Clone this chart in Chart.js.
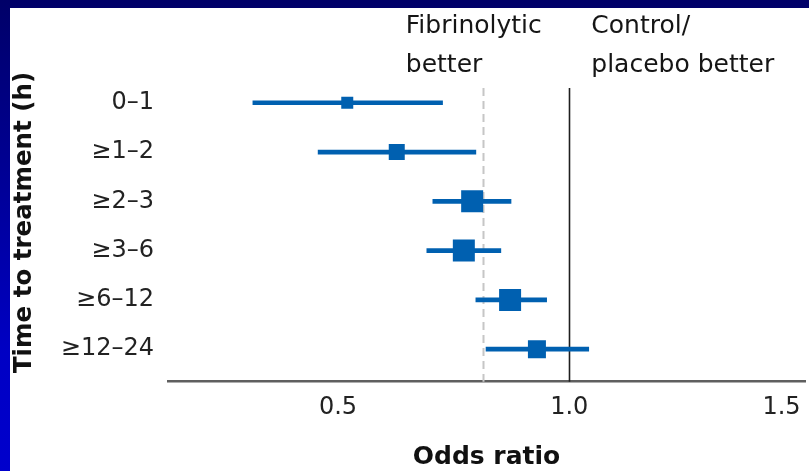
<!DOCTYPE html>
<html>
<head>
<meta charset="utf-8">
<script src="https://cdn.jsdelivr.net/npm/chart.js@4/dist/chart.umd.min.js"></script>
<style>
  html, body { margin: 0; padding: 0; width: 809px; height: 471px; overflow: hidden; }
  body { background: linear-gradient(180deg, #000068 0%, #00008c 30%, #0000c4 75%, #0000cc 100%); position: relative; }
  #panel { position: absolute; left: 10px; top: 8px; width: 799px; height: 463px; background: #ffffff; }
  canvas { display: block; }
</style>
</head>
<body>
<div id="panel"><canvas id="c" width="799" height="463"></canvas></div>
<script>
// ---- data ----
const categories = ['0\u20131', '\u22651\u20132', '\u22652\u20133', '\u22653\u20136', '\u22656\u201312', '\u226512\u201324'];
const oddsRatio  = [0.520, 0.627, 0.790, 0.772, 0.872, 0.930];
const ciLow      = [0.316, 0.457, 0.705, 0.692, 0.798, 0.820];
const ciHigh     = [0.726, 0.798, 0.874, 0.852, 0.951, 1.042];
const weights    = [12, 16, 22, 22, 22, 18];      // relative weight shown by marker size
const xTickValues = [0.5, 1.0, 1.5];
const xTickLabels = ['0.5', '1.0', '1.5'];
const overallOR = 0.814;   // dashed reference line
const nullOR = 1.0;        // solid line of no effect
const xTitle = 'Odds ratio';
const yTitle = 'Time to treatment (h)';
const leftNote  = ['Fibrinolytic', 'better'];
const rightNote = ['Control/', 'placebo better'];

const BLUE = '#0060b0';
const FONT = '"DejaVu Sans", sans-serif';
const X_MIN = 0.1325, X_MAX = 1.5095;

const barData = categories.map((c, i) => ({ x: [ciLow[i], ciHigh[i]], y: i }));
const pointData = categories.map((c, i) => ({ x: oddsRatio[i], y: i }));

const decorPlugin = {
  id: 'decor',
  beforeDatasetsDraw(chart) {
    const { ctx, chartArea, scales } = chart;
    const xs = scales.x;
    ctx.save();
    // overall estimate, dashed
    let px = Math.round(xs.getPixelForValue(overallOR)) + 0.5;
    ctx.strokeStyle = '#c6c6c6';
    ctx.lineWidth = 2;
    ctx.setLineDash([8, 5]);
    ctx.beginPath(); ctx.moveTo(px, chartArea.top); ctx.lineTo(px, chartArea.bottom); ctx.stroke();
    // line of no effect
    px = Math.round(xs.getPixelForValue(nullOR)) + 0.5;
    ctx.setLineDash([]);
    ctx.strokeStyle = '#1e1e1e';
    ctx.lineWidth = 1.6;
    ctx.beginPath(); ctx.moveTo(px, chartArea.top); ctx.lineTo(px, chartArea.bottom); ctx.stroke();
    ctx.restore();
  },
  afterDraw(chart) {
    const { ctx, scales } = chart;
    const px1 = scales.x.getPixelForValue(nullOR);
    ctx.save();
    ctx.fillStyle = '#151515';
    ctx.font = '25px ' + FONT;
    ctx.textBaseline = 'alphabetic';
    ctx.textAlign = 'left';
    const lx = px1 - 163.5, rx = px1 + 22;
    leftNote.forEach((t, i) => ctx.fillText(t, lx, 24.5 + i * 39.2));
    rightNote.forEach((t, i) => ctx.fillText(t, rx, 24.5 + i * 39.2));
    // vertical axis title
    ctx.font = 'bold 24.5px ' + FONT;
    ctx.translate(15, 214.5);
    ctx.rotate(-Math.PI / 2);
    ctx.textAlign = 'center';
    ctx.textBaseline = 'middle';
    ctx.fillStyle = '#111111';
    ctx.fillText(yTitle, 0, 0);
    ctx.restore();
  }
};

new Chart(document.getElementById('c'), {
  type: 'scatter',
  data: {
    datasets: [
      {
        type: 'scatter',
        data: pointData,
        order: 1,
        pointStyle: 'rect',
        pointRadius: ctx => weights[ctx.dataIndex] / Math.SQRT2,
        pointHoverRadius: ctx => weights[ctx.dataIndex] / Math.SQRT2,
        backgroundColor: BLUE,
        borderColor: BLUE,
        borderWidth: 0
      },
      {
        type: 'bar',
        indexAxis: 'y',
        data: barData,
        order: 2,
        barThickness: 4,
        grouped: false,
        backgroundColor: BLUE,
        borderWidth: 0
      }
    ]
  },
  options: {
    responsive: false,
    animation: false,
    devicePixelRatio: 1,
    events: [],
    layout: { autoPadding: false, padding: { left: 0, right: 4, top: 80, bottom: 0 } },
    plugins: { legend: { display: false }, tooltip: { enabled: false }, title: { display: false } },
    scales: {
      x: {
        type: 'linear',
        position: 'bottom',
        min: X_MIN,
        max: X_MAX,
        offset: false,
        grid: { display: false, drawTicks: false },
        border: { display: true, color: '#5f5f5f', width: 2.5 },
        afterBuildTicks: s => { s.ticks = [{ value: X_MIN }].concat(xTickValues.map(v => ({ value: v }))); },
        ticks: {
          autoSkip: false,
          maxRotation: 0,
          align: 'inner',
          padding: 12,
          color: '#222222',
          font: { family: FONT, size: 24 },
          callback: v => { const k = xTickValues.indexOf(v); return k >= 0 ? xTickLabels[k] : ''; }
        },
        title: {
          display: true,
          text: xTitle,
          color: '#111111',
          font: { family: FONT, size: 25, weight: 'bold', lineHeight: 1 },
          padding: { top: 0, bottom: 1 }
        },
        afterFit: s => { s.height = 89.3; s.paddingLeft = 0; s.paddingRight = 0; }
      },
      y: {
        type: 'linear',
        position: 'left',
        reverse: true,
        min: -0.3,
        max: 5.66,
        offset: false,
        grid: { display: false, drawTicks: false },
        border: { display: false },
        afterBuildTicks: s => { s.ticks = categories.map((c, i) => ({ value: i })); },
        ticks: {
          autoSkip: false,
          padding: 14,
          color: '#222222',
          font: { family: FONT, size: 24 },
          callback: v => categories[v]
        },
        title: { display: false },
        afterFit: s => { s.width = 158; s.paddingTop = 0; s.paddingBottom = 0; }
      }
    }
  },
  plugins: [decorPlugin]
});
</script>
</body>
</html>
